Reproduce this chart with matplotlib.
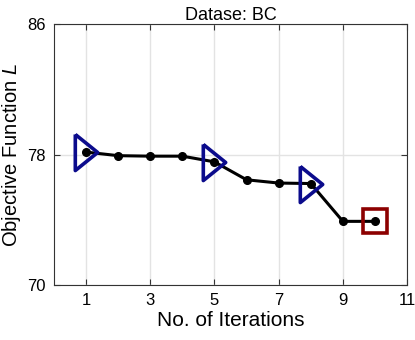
import numpy as np
import matplotlib.pyplot as plt

plt.rcParams['font.family'] = ['Liberation Sans', 'DejaVu Sans']
plt.rcParams['mathtext.fontset'] = 'custom'
plt.rcParams['mathtext.it'] = 'Liberation Sans:italic'
plt.rcParams['mathtext.rm'] = 'Liberation Sans'

# data
iters = [1, 2, 3, 4, 5, 6, 7, 8, 9, 10]
obj = [78.15, 77.93, 77.90, 77.90, 77.55, 76.45, 76.25, 76.22, 73.90, 73.90]
tri_idx = [0, 4, 7]
best_idx = 9

xticks = [1, 3, 5, 7, 9, 11]
yticks = [70, 78, 86]

fig = plt.figure(figsize=(4.15, 3.4), dpi=100)
ax = fig.add_axes([0.130, 0.162, 0.851, 0.767])

ax.plot(iters, obj, color="black", lw=2.2, marker="o", ms=5.5, zorder=3)

tri = [(-0.62, 1), (0.62, 0), (-0.62, -1), (-0.62, 1)]
ax.plot([iters[i] for i in tri_idx], [obj[i] for i in tri_idx], ls="none",
        marker=tri, ms=26, mfc="none", mec="#0b0b8c", mew=2.6, zorder=4)
ax.plot(iters[best_idx], obj[best_idx], ls="none", marker="s", ms=17,
        mfc="none", mec="#8c0000", mew=2.6, zorder=4)

ax.set_xlim(0, 11)
ax.set_ylim(70, 86)
ax.set_xticks(xticks)
ax.set_yticks(yticks)
ax.grid(color="#e3e3e3", lw=1)
ax.set_axisbelow(True)
ax.tick_params(direction="in", top=True, right=True, labelsize=12, length=4,
               color="#333333", pad=6)
for s in ax.spines.values():
    s.set_color("#333333")
    s.set_linewidth(0.8)

ax.set_xlabel("No. of Iterations", fontsize=15, labelpad=2)
ax.set_ylabel("Objective Function $L$", fontsize=14.5, labelpad=3)
ax.set_title("Datase: BC", fontsize=13, pad=3)

plt.savefig("out.png")
